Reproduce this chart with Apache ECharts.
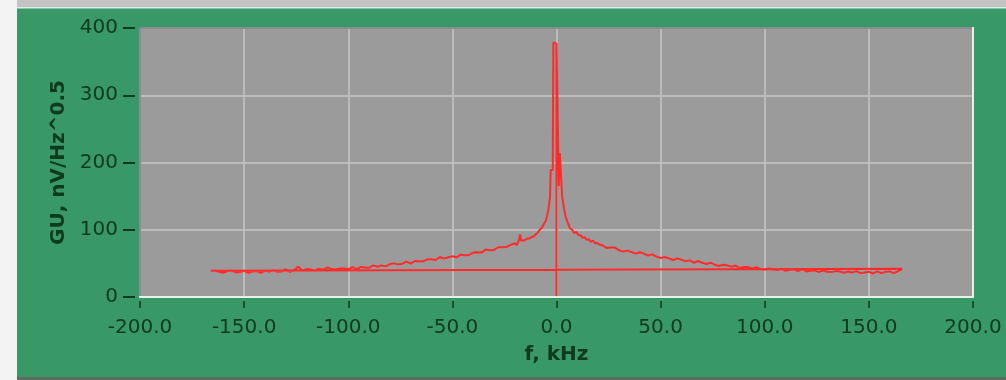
<!DOCTYPE html>
<html>
<head>
<meta charset="utf-8">
<script src="https://cdn.jsdelivr.net/npm/echarts@6/dist/echarts.min.js"></script>
<style>
html, body { margin: 0; padding: 0; background: #fff; }
#chart { width: 1006px; height: 380px; }
</style>
</head>
<body>
<div id="chart"></div>
<script>
// spectrum is stored in FFT order: 0 .. +f first, then -f .. 0
var freqPos = [0, 0, 0.8, 1.1, 1.6, 2.4, 2.7, 3.2, 3.8, 4.5, 5.5, 6.5, 7.5, 8.5, 9.5, 10.5, 11.5, 12.5, 13.5, 14.5, 15.5, 16.5, 17.5, 18.5, 19.5, 20.5,
  22, 24, 26, 28, 30, 32, 34, 36, 38, 40, 42, 44, 46, 48, 50, 52, 54, 56, 58, 60, 62, 64, 66, 68, 70, 72, 74, 76, 78, 80,
  82, 84, 86, 88, 90, 92, 94, 96, 98, 100, 102, 104, 106, 108, 110, 112, 114, 116, 118, 120, 122, 124, 126, 128, 130,
  132, 134, 136, 138, 140, 142, 144, 146, 148, 150, 152, 154, 156, 158, 160, 162, 164, 166];
var gainPos = [0, 378, 378, 165, 214, 214, 150, 140, 128, 118, 110, 102, 100, 95, 97, 92, 92, 88, 89, 85, 86, 82, 84, 80, 80.5, 78,
  77, 73, 73.5, 73.5, 69.5, 67.5, 69, 67, 64.5, 66.5, 64.5, 61.5, 63.5, 60, 58, 59.5, 57.5, 55, 57.5, 55.5, 53, 54.5, 51, 53.5, 51, 49, 51, 48, 46, 48,
  47, 45, 46.5, 43, 44.5, 44.5, 42, 44.5, 41.5, 40.5, 42.5, 41, 40, 42, 39, 40.5, 41, 38.5, 41.5, 38, 39, 39.5, 37, 39.5, 37.5,
  37, 38.5, 38, 36, 38, 36.5, 38.5, 35.5, 36.5, 37.5, 35, 38, 35.5, 37.5, 38, 35.5, 38.5, 42];

var freqNeg = [-166, -164, -162, -160, -158, -156, -154, -152, -150, -148, -146, -144, -142, -140, -138, -136, -134, -132, -130,
  -128, -126, -124, -122, -120, -118, -116, -114, -112, -110, -108, -106, -104, -102, -100, -98, -96, -94, -92, -90,
  -88, -86, -84, -82, -80, -78, -76, -74, -72, -70, -68, -66, -64, -62, -60, -58, -56, -54, -52, -50,
  -48, -46, -44, -42, -40, -38, -36, -34, -32, -30, -28, -26, -24, -22,
  -20, -19, -18, -17.5, -17, -16, -15, -14, -13, -12, -11, -10, -9, -8, -7, -6, -5, -4.5, -4, -3.5, -3.1, -2.8, -1.8, -1.5, -0.3];
var gainNeg = [39, 39.5, 37.5, 36, 38.5, 39.5, 36.5, 37, 39, 36, 38, 38.5, 36, 39, 38, 39.5, 37.5, 38, 41,
  37.5, 40, 45, 39, 41.5, 41, 39, 42, 40.5, 44, 41.5, 41, 42.5, 42.5, 41.5, 44.5, 41.5, 44.5, 44, 43.5,
  47, 45, 47, 45.5, 49, 50, 48.5, 49.5, 52.5, 49.5, 53.5, 53, 53, 56, 56, 55, 59.5, 57, 59, 60.5,
  59, 63, 62, 62.5, 66, 66.5, 66, 70.5, 69.5, 70, 74, 74, 74.5, 77.5,
  80, 77, 85, 93, 84, 84, 85, 87, 87, 89, 90, 93, 96, 100, 103, 109, 114, 121, 128, 139, 149, 189, 189, 378, 378];

var xTicks = [-200, -150, -100, -50, 0, 50, 100, 150, 200];
var yTicks = [0, 100, 200, 300, 400];

var points = [];
freqPos.forEach(function (f, i) { points.push([f, gainPos[i]]); });
freqNeg.forEach(function (f, i) { points.push([f, gainNeg[i]]); });

var txt = '#0f3a1e';
var chart = echarts.init(document.getElementById('chart'));
chart.setOption({
  animation: false,
  backgroundColor: '#389868',
  grid: {
    left: 140, right: 33, top: 28, bottom: 83,
    show: true, backgroundColor: '#9b9b9b', borderWidth: 0
  },
  xAxis: {
    type: 'value',
    min: xTicks[0], max: xTicks[xTicks.length - 1], interval: xTicks[1] - xTicks[0],
    offset: 4,
    name: 'f, kHz', nameLocation: 'middle', nameGap: 44,
    nameTextStyle: { color: txt, fontFamily: 'DejaVu Sans', fontWeight: 'bold', fontSize: 20 },
    axisLine: { show: false, onZero: false },
    axisTick: { length: 7, lineStyle: { color: txt, width: 1.5 } },
    axisLabel: { margin: 17, color: txt, fontFamily: 'DejaVu Sans', fontSize: 20,
      formatter: function (v) {
        var s = v.toFixed(1);
        return s === '-0.0' ? '0.0' : s;
      } },
    splitLine: { lineStyle: { color: '#c6c6c6', width: 1.5 } }
  },
  yAxis: {
    type: 'value',
    min: yTicks[0], max: yTicks[yTicks.length - 1], interval: yTicks[1] - yTicks[0],
    offset: 5,
    name: 'GU, nV/Hz^0.5', nameLocation: 'middle', nameGap: 62,
    nameTextStyle: { color: txt, fontFamily: 'DejaVu Sans', fontWeight: 'bold', fontSize: 20 },
    axisLine: { show: false, onZero: false },
    axisTick: { show: true, length: 12, lineStyle: { color: txt, width: 2 } },
    axisLabel: { margin: 17, color: txt, fontFamily: 'DejaVu Sans', fontSize: 20 },
    splitLine: { lineStyle: { color: '#c6c6c6', width: 1.5 } }
  },
  graphic: [
    { type: 'rect', shape: { x: 0, y: 0, width: 1006, height: 7 }, style: { fill: '#c3c3c3' }, z: 100 },
    { type: 'rect', shape: { x: 0, y: 7, width: 1006, height: 1.5 }, style: { fill: '#dcefe4' }, z: 100 },
    { type: 'rect', shape: { x: 0, y: 0, width: 17, height: 380 }, style: { fill: '#f3f3f3' }, z: 100 },
    { type: 'rect', shape: { x: 17, y: 377, width: 989, height: 3 }, style: { fill: '#5e6a62' }, z: 100 },
    { type: 'line', shape: { x1: 140, y1: 28, x2: 973, y2: 28 }, style: { stroke: '#7e7e7e', lineWidth: 1.5 }, z: 100 },
    { type: 'line', shape: { x1: 140, y1: 28, x2: 140, y2: 297 }, style: { stroke: '#7e7e7e', lineWidth: 1.5 }, z: 100 },
    { type: 'line', shape: { x1: 973, y1: 27, x2: 973, y2: 298 }, style: { stroke: '#e4f2e8', lineWidth: 2 }, z: 100 },
    { type: 'line', shape: { x1: 139, y1: 297, x2: 974, y2: 297 }, style: { stroke: '#e4f2e8', lineWidth: 2 }, z: 100 }
  ],
  series: [{
    type: 'line',
    data: points,
    showSymbol: false,
    clip: true,
    lineStyle: { color: '#ff2b2b', width: 2 }
  }]
});
</script>
</body>
</html>
